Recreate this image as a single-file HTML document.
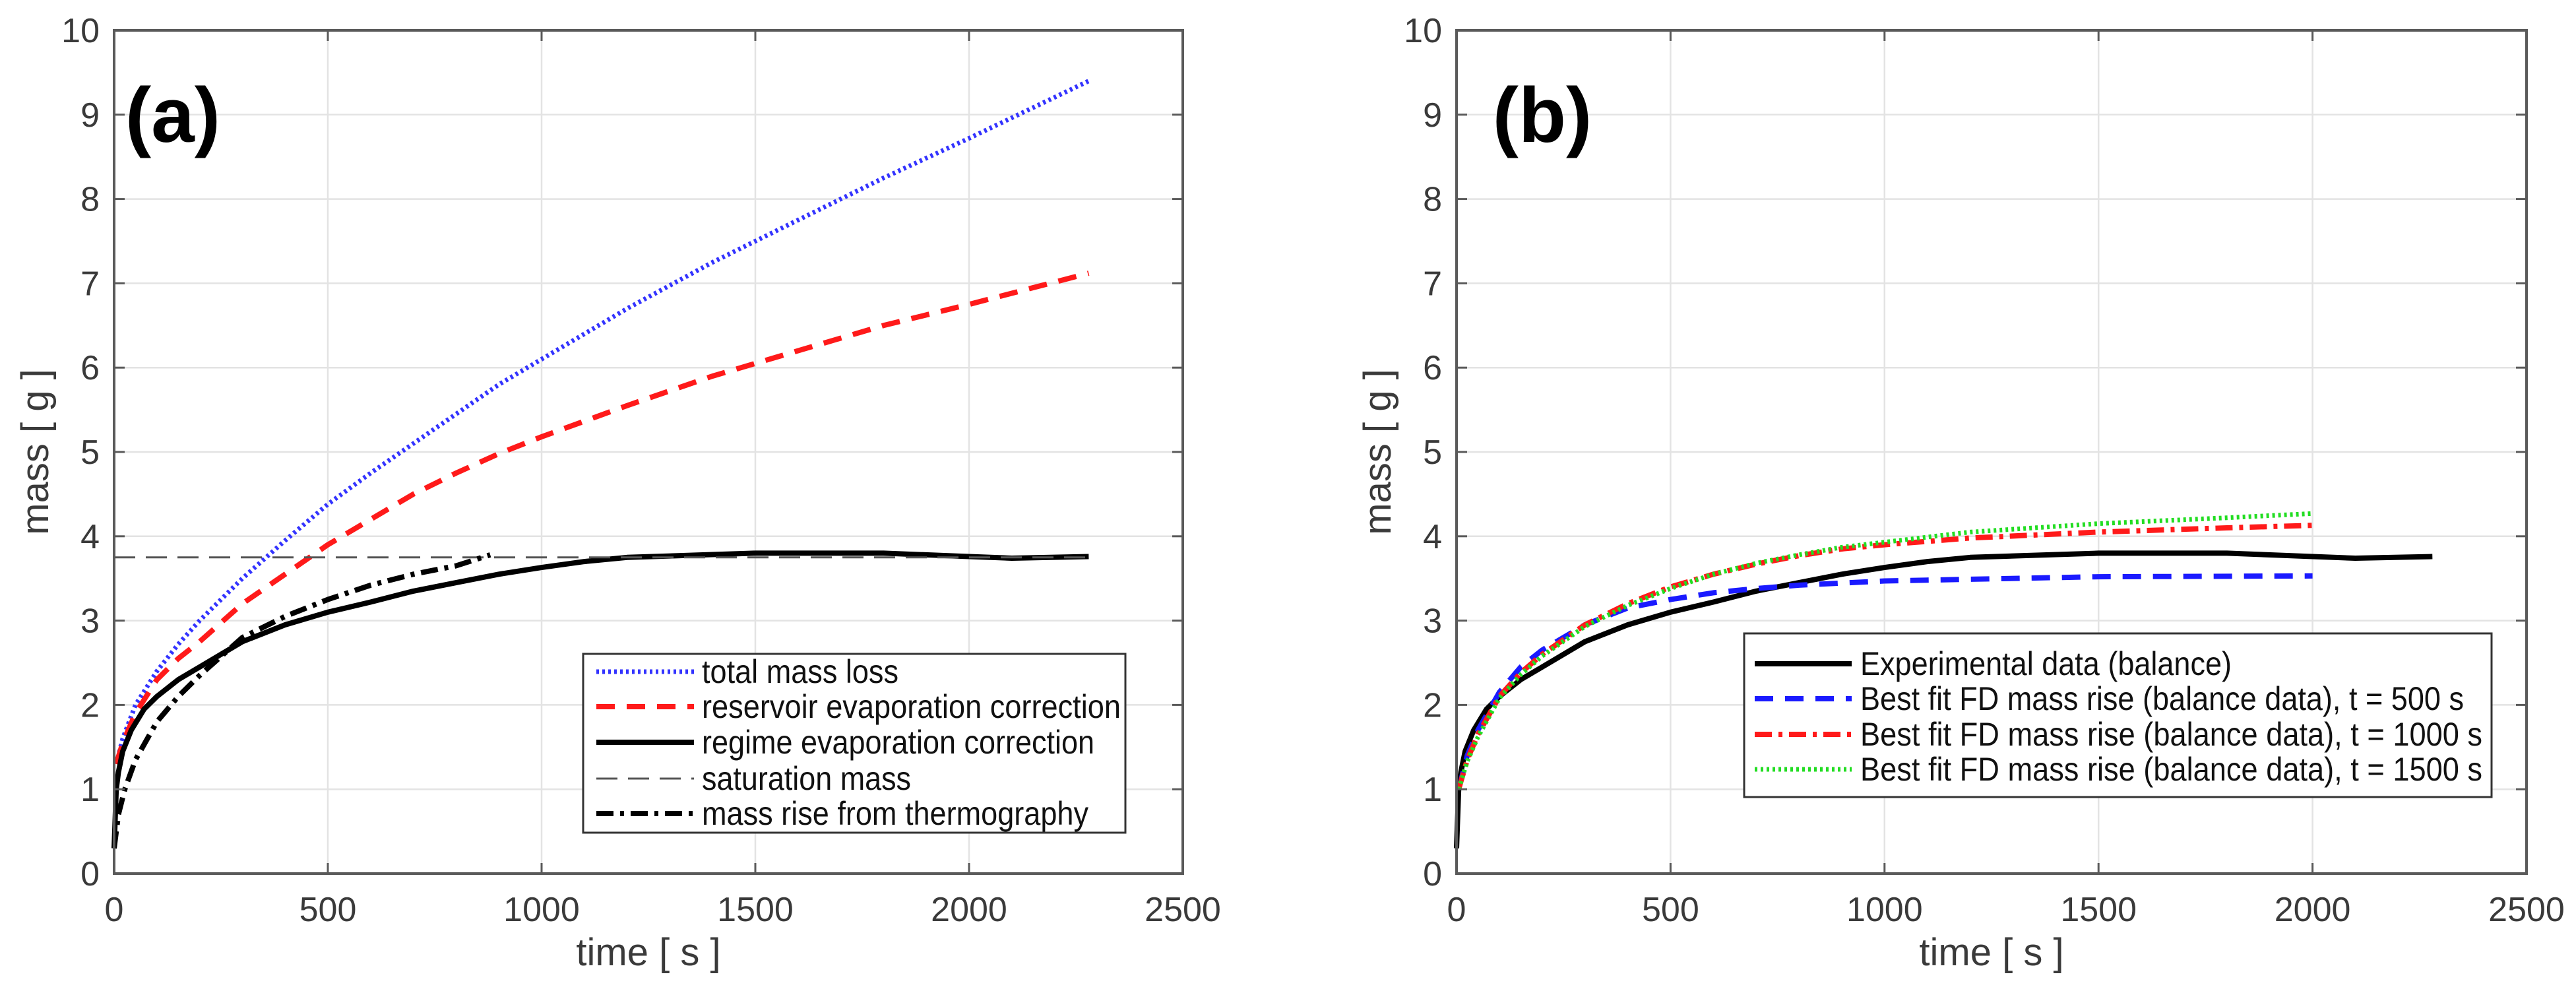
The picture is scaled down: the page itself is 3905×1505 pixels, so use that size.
<!DOCTYPE html>
<html><head><meta charset="utf-8"><style>
body{margin:0;background:#fff}
svg{display:block;font-family:"Liberation Sans",sans-serif}
</style></head><body>
<svg id="fig" width="3905" height="1505" viewBox="0 0 3905 1505"></svg>
<script>
// ---- panel (a) data ----
const aTotalT=[5,20,50,100,150,200,300,400,500,600,700,800,900,1000,1200,1400,1600,1800,2000,2280];
const aTotalM=[1.3,1.6,2.0,2.4,2.72,3.0,3.5,3.95,4.38,4.75,5.1,5.45,5.8,6.1,6.7,7.25,7.75,8.25,8.72,9.4];
const aResT=[5,20,50,100,150,200,300,400,500,600,700,800,900,1000,1200,1400,1600,1800,2000,2280];
const aResM=[1.3,1.55,1.9,2.3,2.55,2.75,3.2,3.55,3.9,4.2,4.5,4.75,4.98,5.18,5.55,5.9,6.2,6.5,6.75,7.12];
const expT=[0,5,10,20,40,70,100,150,200,300,400,500,600,700,800,900,1000,1100,1200,1500,1800,2000,2100,2280];
const expM=[0.3,1.0,1.2,1.45,1.7,1.95,2.1,2.3,2.45,2.75,2.95,3.1,3.22,3.35,3.45,3.55,3.63,3.7,3.75,3.8,3.8,3.76,3.74,3.76];
const satT=[0,2280];
const satM=[3.75,3.75];
const thT=[0,10,25,50,100,150,200,300,400,500,600,700,800,880];
const thM=[0.3,0.7,1.0,1.35,1.8,2.1,2.35,2.8,3.05,3.25,3.42,3.55,3.65,3.78];
// ---- panel (b) data ----
const b500T=[5,25,50,100,150,200,300,400,500,600,700,800,1000,1500,2000];
const b500M=[1.0,1.4,1.7,2.15,2.45,2.65,2.95,3.15,3.25,3.33,3.38,3.42,3.47,3.52,3.53];
const b1000T=[5,25,50,100,150,200,300,400,500,600,700,800,900,1000,1200,1500,1800,2000];
const b1000M=[1.0,1.35,1.65,2.1,2.38,2.6,2.95,3.2,3.4,3.55,3.67,3.77,3.85,3.9,3.98,4.05,4.1,4.13];
const b1500T=[5,25,50,100,150,200,300,400,500,600,700,800,900,1000,1200,1500,1800,2000];
const b1500M=[1.0,1.33,1.62,2.08,2.36,2.58,2.93,3.18,3.38,3.55,3.68,3.78,3.87,3.93,4.05,4.15,4.22,4.27];
const xTicks=[0,500,1000,1500,2000,2500];
const yTicks=[0,1,2,3,4,5,6,7,8,9,10];

const NS='http://www.w3.org/2000/svg';
const svg=document.getElementById('fig');
function mk(tag,attrs,parent){const e=document.createElementNS(NS,tag);for(const k in attrs)e.setAttribute(k,attrs[k]);(parent||svg).appendChild(e);return e;}

function panel(id,L,R,T,B,label,series,legend){
  const g=mk('g',{});
  
  
  const sx=v=>L+(v/2500)*(R-L), sy=v=>B-(v/10)*(B-T);
  xTicks.forEach(t=>{const l=mk('line',{x1:sx(t),x2:sx(t),y1:T,y2:B,stroke:'#e3e3e3','stroke-width':2.5},g);
    });
  yTicks.forEach(t=>{const l=mk('line',{x1:L,x2:R,y1:sy(t),y2:sy(t),stroke:'#e3e3e3','stroke-width':2.5},g);
    });
  series.forEach(s=>{
    const pts=s.t.map((t,i)=>sx(t).toFixed(1)+','+sy(s.m[i]).toFixed(1)).join(' ');
    const p=mk('polyline',{points:pts,fill:'none',stroke:s.c,'stroke-width':s.w,'stroke-dasharray':s.d||'','stroke-linejoin':'round'},g);
    
    
  });
  const fr=mk('rect',{x:L,y:T,width:R-L,height:B-T,fill:'none',stroke:'#5a5a5a','stroke-width':4},g);
  
  xTicks.forEach(t=>{
    mk('line',{x1:sx(t),x2:sx(t),y1:B,y2:B-16,stroke:'#5a5a5a','stroke-width':3},g);
    mk('line',{x1:sx(t),x2:sx(t),y1:T,y2:T+16,stroke:'#5a5a5a','stroke-width':3},g);
    const tx=mk('text',{x:sx(t),y:B+72,'font-size':52,fill:'#3a3a3a','text-anchor':'middle'},g);
    tx.textContent=t;
  });
  yTicks.forEach(t=>{
    mk('line',{x1:L,x2:L+16,y1:sy(t),y2:sy(t),stroke:'#5a5a5a','stroke-width':3},g);
    mk('line',{x1:R,x2:R-16,y1:sy(t),y2:sy(t),stroke:'#5a5a5a','stroke-width':3},g);
    const tx=mk('text',{x:L-22,y:sy(t)+18,'font-size':52,fill:'#3a3a3a','text-anchor':'end'},g);
    tx.textContent=t;
  });
  const xl=mk('text',{x:(L+R)/2,y:1463,'font-size':58,fill:'#3a3a3a','text-anchor':'middle'},g);
  xl.textContent='time [ s ]';
  const yl=mk('text',{x:0,y:0,'font-size':58,fill:'#3a3a3a','text-anchor':'middle',transform:`translate(${L-100},${(T+B)/2}) rotate(-90)`},g);
  yl.textContent='mass [ g ]';
  const pl=mk('text',{x:label.x,y:label.y,'font-size':118,'font-weight':'bold',fill:'#000','text-anchor':'middle'},g);
  pl.textContent=label.s;
  // legend
  const lb=mk('rect',{x:legend.x,y:legend.y,width:legend.w,height:legend.h,fill:'#fff',stroke:'#333','stroke-width':3},g);
  
  legend.items.forEach((it,i)=>{
    const y=legend.rows[i];
    const s=series[it.si];
    const ln=mk('line',{x1:legend.lx1,x2:legend.lx2,y1:y,y2:y,stroke:s.c,'stroke-width':s.w,'stroke-dasharray':s.d||''},g);
    
    const tx=mk('text',{x:legend.tx,y:y+17,'font-size':50,fill:'#111',textLength:it.w,lengthAdjust:'spacingAndGlyphs'},g);
    tx.textContent=it.s;
  });
}

panel('panel-a',173,1793,46,1324,{s:'(a)',x:262,y:215},[
  {name:'total-mass-loss-line',t:aTotalT,m:aTotalM,c:'#3333ff',w:7,d:'4 5'},
  {name:'reservoir-correction-line',t:aResT,m:aResM,c:'#ff1a1a',w:8,d:'28 18'},
  {name:'regime-correction-line',t:expT,m:expM,c:'#000',w:8},
  {name:'saturation-mass-line',t:satT,m:satM,c:'#555',w:3,d:'32 16'},
  {name:'thermography-line',t:thT,m:thM,c:'#000',w:8,d:'26 10 6 10'}
],{x:884,y:991,w:822,h:271,lx1:904,lx2:1052,tx:1064,rows:[1018,1071,1125,1180,1233],
  items:[{si:0,s:'total mass loss',w:298},{si:1,s:'reservoir evaporation correction',w:635},{si:2,s:'regime evaporation correction',w:595},{si:3,s:'saturation mass',w:317},{si:4,s:'mass rise from thermography',w:586}]});

panel('panel-b',2208,3830,46,1324,{s:'(b)',x:2338,y:215},[
  {name:'experimental-line',t:expT,m:expM,c:'#000',w:8},
  {name:'fit-500-line',t:b500T,m:b500M,c:'#1a1aff',w:8,d:'28 18'},
  {name:'fit-1000-line',t:b1000T,m:b1000M,c:'#ff1a1a',w:8,d:'26 10 6 10'},
  {name:'fit-1500-line',t:b1500T,m:b1500M,c:'#22dd22',w:7,d:'4 5'}
],{x:2644,y:960,w:1133,h:248,lx1:2660,lx2:2807,tx:2820,rows:[1006,1059,1113,1166],
  items:[{si:0,s:'Experimental data (balance)',w:563},{si:1,s:'Best fit FD mass rise (balance data), t = 500 s',w:915},{si:2,s:'Best fit FD mass rise (balance data), t = 1000 s',w:943},{si:3,s:'Best fit FD mass rise (balance data), t = 1500 s',w:943}]});
</script>
</body></html>
